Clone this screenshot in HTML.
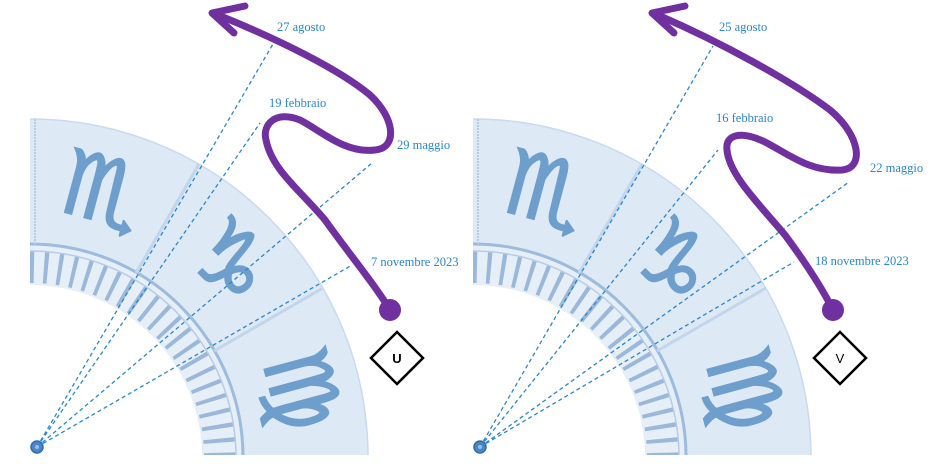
<!DOCTYPE html>
<html><head><meta charset="utf-8"><style>
html,body{margin:0;padding:0;background:#fff;width:935px;height:464px;overflow:hidden}
svg{display:block}
.lbl{font-family:"Liberation Serif",serif;font-size:12.5px;fill:#2a86cf}
.d{stroke:#2a86cf;stroke-width:1.3;stroke-dasharray:4 3;fill:none}
.p{stroke:#7030a0;stroke-width:7;fill:none;stroke-linecap:round;stroke-linejoin:round}
.g{font-family:"DejaVu Sans",sans-serif;font-size:90px;fill:#5b91c6;stroke:#5b91c6;stroke-width:2;opacity:.85}
</style></head><body>
<svg width="935" height="464" viewBox="0 0 935 464">
<defs>
<clipPath id="c"><rect x="0" y="0" width="935" height="455"/></clipPath>
<g id="wheel">
  <path d="M30,119 A338,338 0 0 1 368,457 L243,457 A213,213 0 0 0 30,244 Z" fill="#dde9f5"/>
  <path d="M30,244 A213,213 0 0 1 243,457 L202,457 A172,172 0 0 0 30,285 Z" fill="#e6eef8"/>
  <path d="M30,267 A190,190 0 0 1 220,457" fill="none" stroke="#9ab8da" stroke-width="32" stroke-dasharray="4 10"/>
  <path d="M30,244 A213,213 0 0 1 243,457" fill="none" stroke="#9dbbdc" stroke-width="3"/>
  <path d="M30,251 A206,206 0 0 1 236,457" fill="none" stroke="#b7cce6" stroke-width="1.5"/>
  <path d="M30,119 A338,338 0 0 1 368,457" fill="none" stroke="#c9daee" stroke-width="1.5"/>
  <line x1="136" y1="273" x2="199" y2="164" stroke="#c2d5ec" stroke-width="3"/>
  <line x1="214" y1="351" x2="323" y2="288" stroke="#c2d5ec" stroke-width="3"/>
  <line x1="35" y1="119" x2="35" y2="244" stroke="#b7cce6" stroke-width="2" stroke-dasharray="2 1"/>
  <text class="g" transform="translate(101,196) rotate(15)" text-anchor="middle" dominant-baseline="middle">♏</text>
  <text class="g" transform="translate(226,265) rotate(45)" text-anchor="middle" dominant-baseline="middle">♑</text>
  <text class="g" transform="translate(296,391) rotate(75)" text-anchor="middle" dominant-baseline="middle">♍</text>
</g>
</defs>
<g clip-path="url(#c)">
<use href="#wheel"/>
<use href="#wheel" transform="translate(443,0)"/>
</g>

<!-- Panel 1 -->
<line class="d" x1="37" y1="447" x2="273" y2="44"/>
<line class="d" x1="37" y1="447" x2="260" y2="123"/>
<line class="d" x1="37" y1="447" x2="372" y2="163"/>
<line class="d" x1="37" y1="447" x2="352" y2="265"/>
<circle cx="37" cy="447" r="6" fill="#4a86c5" stroke="#2e6db0" stroke-width="1.5"/>
<circle cx="37" cy="447" r="2" fill="#9cc0e6"/>
<path class="p" d="M218,15 C280,40 340,70 370,95 C395,118 398,148 375,150 C345,154 320,130 300,120 C275,110 262,125 266,140 C272,170 300,190 325,220 C350,255 375,285 390,310"/>
<path class="p" d="M245,6 L212,13 L234,33"/>
<circle cx="390" cy="310" r="11" fill="#7030a0"/>
<text class="lbl" x="277" y="31">27 agosto</text>
<text class="lbl" x="269" y="107">19 febbraio</text>
<text class="lbl" x="397" y="149">29 maggio</text>
<text class="lbl" x="371" y="266">7 novembre 2023</text>
<polygon points="397,332 423,358 397,384 371,358" fill="#fff" stroke="#000" stroke-width="2.5"/>
<text x="397" y="363" text-anchor="middle" font-family="Liberation Sans,sans-serif" font-size="13" font-weight="bold">U</text>

<!-- Panel 2 -->
<line class="d" x1="480" y1="447" x2="713" y2="46"/>
<line class="d" x1="480" y1="447" x2="718" y2="150"/>
<line class="d" x1="480" y1="447" x2="849" y2="182"/>
<line class="d" x1="480" y1="447" x2="794" y2="262"/>
<circle cx="480" cy="447" r="6" fill="#4a86c5" stroke="#2e6db0" stroke-width="1.5"/>
<circle cx="480" cy="447" r="2" fill="#9cc0e6"/>
<path class="p" d="M660,16 C720,42 790,80 830,110 C860,135 865,168 842,170 C810,172 790,155 765,142 C740,130 725,135 727,150 C729,175 760,205 785,235 C805,262 822,288 833,310"/>
<path class="p" d="M685,6 L652,13 L674,33"/>
<circle cx="833" cy="310" r="11" fill="#7030a0"/>
<text class="lbl" x="719" y="31">25 agosto</text>
<text class="lbl" x="716" y="122">16 febbraio</text>
<text class="lbl" x="870" y="172">22 maggio</text>
<text class="lbl" x="815" y="265">18 novembre 2023</text>
<polygon points="840,332 866,358 840,384 814,358" fill="#fff" stroke="#000" stroke-width="2.5"/>
<text x="840" y="363" text-anchor="middle" font-family="Liberation Sans,sans-serif" font-size="13">V</text>
</svg>
</body></html>
